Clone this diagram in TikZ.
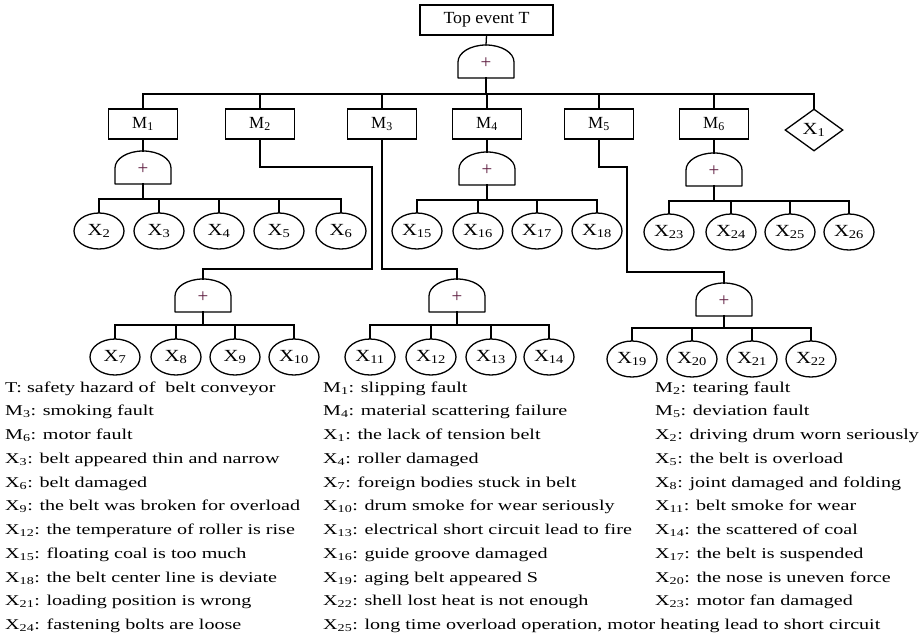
\documentclass[tikz,border=0pt]{standalone}
\usepackage{fontspec}
\setmainfont[FakeStretch=1.34]{Liberation Serif}
\newfontfamily\boxfont{Liberation Serif}
\newfontfamily\evfont[FakeStretch=1.22]{Liberation Serif}
\newfontfamily\topfont[FakeStretch=1.05]{Liberation Serif}
\usetikzlibrary{shapes.geometric}
\definecolor{plusc}{RGB}{95,30,65}
\newcommand\sbs[1]{\textsubscript{#1}}
\def\ignorex x{}
\tikzset{
  ln/.style={line width=1.3pt, line cap=rect},
  gateline/.style={line width=1.3pt, line join=round},
  mbox/.style={draw, line width=1.3pt, minimum width=69pt, minimum height=30pt, inner sep=0pt, font=\boxfont\fontsize{17}{17}\selectfont},
  topbox/.style={draw, line width=1.3pt, minimum width=133pt, minimum height=30pt, inner sep=0pt, font=\topfont\fontsize{17}{17}\selectfont},
  ev/.style={draw, ellipse, line width=1.3pt, minimum width=50pt, minimum height=36pt, inner sep=0pt, font=\evfont\fontsize{17}{17}\selectfont},
  dia/.style={draw, diamond, line width=1.3pt, minimum width=58pt, minimum height=42pt, inner sep=0pt, font=\evfont\fontsize{17}{17}\selectfont},
  plussign/.style={inner sep=0pt, text=plusc, font=\boxfont\fontsize{19}{19}\selectfont},
  leg/.style={anchor=base west, inner sep=0pt, font=\fontsize{15}{17}\selectfont},
}
% #1 name, #2 x centre, #3 y bottom
\newcommand\orgate[3]{%
  \draw[gateline] (#2-28,#3) -- (#2-28,#3-16) arc[start angle=180,end angle=0,x radius=28pt,y radius=17pt] -- (#2+28,#3) -- cycle;
  \node[plussign] (#1) at (#2,#3-15) {+};
  \coordinate (#1t) at (#2,#3-33);
  \coordinate (#1b) at (#2,#3);
}
\begin{document}
\begin{tikzpicture}[x=1pt,y=-1pt]
\path[fill=white] (0,0) rectangle (924,638);
\useasboundingbox (0,0) rectangle (924,638);

% top
\node[topbox] (top) at (486.5,20) {Top event T};
\orgate{G0}{486}{78}
\draw[ln] (top.south) -- (G0t);

% intermediate events
\node[mbox] (m1) at (143,124) {M\sbs{1}};
\node[mbox] (m2) at (260,124) {M\sbs{2}};
\node[mbox] (m3) at (382,124) {M\sbs{3}};
\node[mbox] (m4) at (487,124) {M\sbs{4}};
\node[mbox] (m5) at (599,124) {M\sbs{5}};
\node[mbox] (m6) at (714,124) {M\sbs{6}};
\node[dia] (x1) at (814,130) {X\sbs{1}};

\coordinate (hb) at (486,94);
\draw[ln] (G0b) -- (hb);
\draw[ln] (m1.north) -- (m1.north |- hb) -- (x1.north |- hb) -- (x1.north);
\foreach \m in {m2,m3,m4,m5,m6} \draw[ln] (\m.north) -- (\m.north |- hb);

% M1 branch
\orgate{G1}{143}{184}
\draw[ln] (m1.south) -- (G1t);
\foreach \n/\x in {x2/99,x3/159,x4/219,x5/279,x6/341} \node[ev] (\n) at (\x,231) {X\sbs{\expandafter\ignorex\n}};
\coordinate (hb1) at (143,199);
\draw[ln] (G1b) -- (hb1);
\draw[ln] (x2.north) -- (x2.north |- hb1) -- (x6.north |- hb1) -- (x6.north);
\foreach \n in {x3,x4,x5} \draw[ln] (\n.north) -- (\n.north |- hb1);

% M4 branch
\orgate{G4}{487}{185}
\draw[ln] (m4.south) -- (G4t);
\foreach \n/\x in {x15/417,x16/478,x17/537,x18/597} \node[ev] (\n) at (\x,231) {X\sbs{\expandafter\ignorex\n}};
\coordinate (hb4) at (487,200);
\draw[ln] (G4b) -- (hb4);
\draw[ln] (x15.north) -- (x15.north |- hb4) -- (x18.north |- hb4) -- (x18.north);
\foreach \n in {x16,x17} \draw[ln] (\n.north) -- (\n.north |- hb4);

% M6 branch
\orgate{G6}{714}{186}
\draw[ln] (m6.south) -- (G6t);
\foreach \n/\x in {x23/669,x24/731,x25/790,x26/849} \node[ev] (\n) at (\x,232) {X\sbs{\expandafter\ignorex\n}};
\coordinate (hb6) at (714,201);
\draw[ln] (G6b) -- (hb6);
\draw[ln] (x23.north) -- (x23.north |- hb6) -- (x26.north |- hb6) -- (x26.north);
\foreach \n in {x24,x25} \draw[ln] (\n.north) -- (\n.north |- hb6);

% M2 branch
\orgate{G2}{203}{312}
\coordinate (c2a) at (372,167);
\coordinate (c2b) at (372,269);
\draw[ln] (m2.south) |- (c2a) -- (c2b) -| (G2t);
\foreach \n/\x in {x7/115,x8/176,x9/235,x10/294} \node[ev] (\n) at (\x,357) {X\sbs{\expandafter\ignorex\n}};
\coordinate (hb2) at (203,325);
\draw[ln] (G2b) -- (hb2);
\draw[ln] (x7.north) -- (x7.north |- hb2) -- (x10.north |- hb2) -- (x10.north);
\foreach \n in {x8,x9} \draw[ln] (\n.north) -- (\n.north |- hb2);

% M3 branch
\orgate{G3}{457}{312}
\coordinate (c3) at (382,269);
\draw[ln] (m3.south) -- (c3) -| (G3t);
\foreach \n/\x in {x11/370,x12/431,x13/491,x14/549} \node[ev] (\n) at (\x,357) {X\sbs{\expandafter\ignorex\n}};
\coordinate (hb3) at (457,325);
\draw[ln] (G3b) -- (hb3);
\draw[ln] (x11.north) -- (x11.north |- hb3) -- (x14.north |- hb3) -- (x14.north);
\foreach \n in {x12,x13} \draw[ln] (\n.north) -- (\n.north |- hb3);

% M5 branch
\orgate{G5}{724}{316}
\coordinate (c5a) at (627,167);
\coordinate (c5b) at (627,272);
\draw[ln] (m5.south) |- (c5a) -- (c5b) -| (G5t);
\foreach \n/\x in {x19/632,x20/692,x21/752,x22/811} \node[ev] (\n) at (\x,359) {X\sbs{\expandafter\ignorex\n}};
\coordinate (hb5) at (724,328);
\draw[ln] (G5b) -- (hb5);
\draw[ln] (x19.north) -- (x19.north |- hb5) -- (x22.north |- hb5) -- (x22.north);
\foreach \n in {x20,x21} \draw[ln] (\n.north) -- (\n.north |- hb5);

% legend
\node[leg] (l1a) at (5,392) {T: safety hazard of\ \ belt conveyor};
\node[leg] (l1b) at (323,392) {M\sbs{1}: slipping fault};
\node[leg] (l1c) at (655,392) {M\sbs{2}: tearing fault};
\node[leg] (l2a) at (5,415.75) {M\sbs{3}: smoking fault};
\node[leg] (l2b) at (323,415.75) {M\sbs{4}: material scattering failure};
\node[leg] (l2c) at (655,415.75) {M\sbs{5}: deviation fault};
\node[leg] (l3a) at (5,439.5) {M\sbs{6}: motor fault};
\node[leg] (l3b) at (323,439.5) {X\sbs{1}: the lack of tension belt};
\node[leg] (l3c) at (655,439.5) {X\sbs{2}: driving drum worn seriously};
\node[leg] (l4a) at (5,463.25) {X\sbs{3}: belt appeared thin and narrow};
\node[leg] (l4b) at (323,463.25) {X\sbs{4}: roller damaged};
\node[leg] (l4c) at (655,463.25) {X\sbs{5}: the belt is overload};
\node[leg] (l5a) at (5,487) {X\sbs{6}: belt damaged};
\node[leg] (l5b) at (323,487) {X\sbs{7}: foreign bodies stuck in belt};
\node[leg] (l5c) at (655,487) {X\sbs{8}: joint damaged and folding};
\node[leg] (l6a) at (5,510.75) {X\sbs{9}: the belt was broken for overload};
\node[leg] (l6b) at (323,510.75) {X\sbs{10}: drum smoke for wear seriously};
\node[leg] (l6c) at (655,510.75) {X\sbs{11}: belt smoke for wear};
\node[leg] (l7a) at (5,534.5) {X\sbs{12}: the temperature of roller is rise};
\node[leg] (l7b) at (323,534.5) {X\sbs{13}: electrical short circuit lead to fire};
\node[leg] (l7c) at (655,534.5) {X\sbs{14}: the scattered of coal};
\node[leg] (l8a) at (5,558.25) {X\sbs{15}: floating coal is too much};
\node[leg] (l8b) at (323,558.25) {X\sbs{16}: guide groove damaged};
\node[leg] (l8c) at (655,558.25) {X\sbs{17}: the belt is suspended};
\node[leg] (l9a) at (5,582) {X\sbs{18}: the belt center line is deviate};
\node[leg] (l9b) at (323,582) {X\sbs{19}: aging belt appeared S};
\node[leg] (l9c) at (655,582) {X\sbs{20}: the nose is uneven force};
\node[leg] (l10a) at (5,605.75) {X\sbs{21}: loading position is wrong};
\node[leg] (l10b) at (323,605.75) {X\sbs{22}: shell lost heat is not enough};
\node[leg] (l10c) at (655,605.75) {X\sbs{23}: motor fan damaged};
\node[leg] (l11a) at (5,629.5) {X\sbs{24}: fastening bolts are loose};
\node[leg] (l11b) at (323,629.5) {X\sbs{25}: long time overload operation, motor heating lead to short circuit};
\end{tikzpicture}
\end{document}
